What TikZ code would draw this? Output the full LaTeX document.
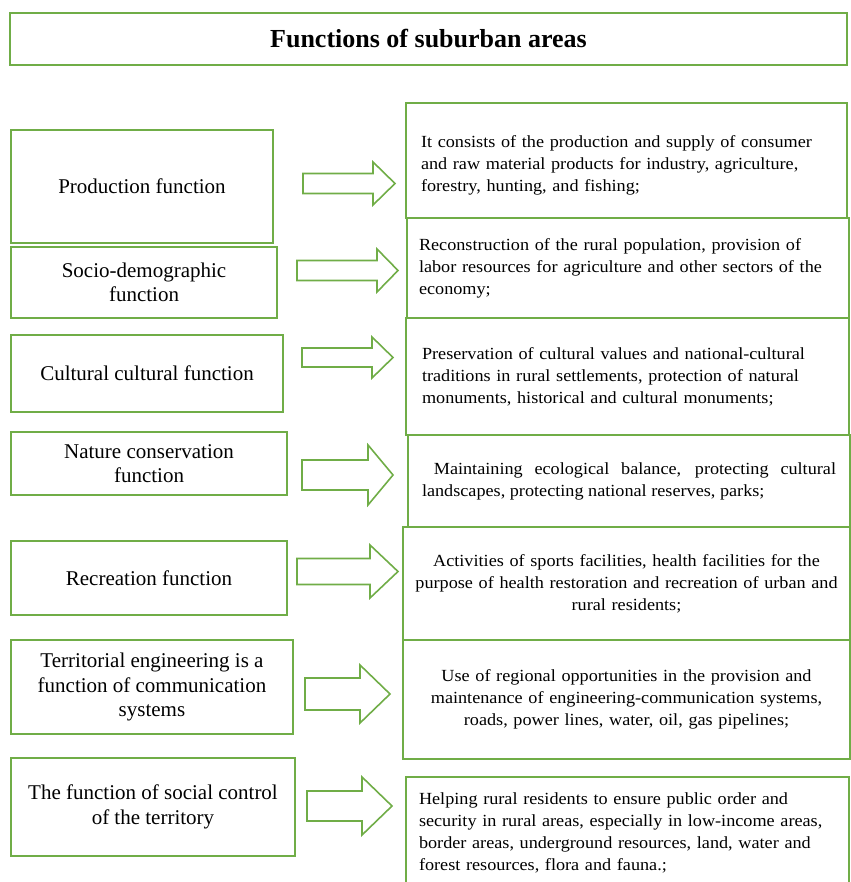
\documentclass[tikz,border=0pt]{standalone}
\usepackage{fontspec}
\setmainfont{Liberation Serif}
\newfontfamily\descfont[FakeStretch=1.07]{Liberation Serif}
\definecolor{boxgreen}{HTML}{70AD47}

\begin{document}
\begin{tikzpicture}
[x=1pt,y=-1pt,
 every node/.style={draw=boxgreen,line width=1.6pt,inner sep=0pt,outer sep=0pt},
 fn/.style={font=\fontsize{21}{24.5}\selectfont,align=center},
 ds/.style={font=\descfont\fontsize{17}{22}\selectfont}]
\useasboundingbox (0,0) rectangle (850,882);
\node[minimum width=837pt,minimum height=52pt,font=\bfseries\fontsize{26}{30}\selectfont] (title) at (428.5,39) {Functions of suburban areas};
% functions
\node[fn,minimum width=262pt,minimum height=113pt] (fn1) at (142,186.5) {Production function};
\node[fn,minimum width=266pt,minimum height=71pt] (fn2) at (144,282.5) {Socio-demographic\\function};
\node[fn,minimum width=272pt,minimum height=77pt] (fn3) at (147,373.5) {Cultural cultural function};
\node[fn,minimum width=276pt,minimum height=63pt] (fn4) at (149,463.5) {Nature conservation\\function};
\node[fn,minimum width=276pt,minimum height=74pt] (fn5) at (149,578) {Recreation function};
\node[fn,minimum width=282pt,minimum height=94pt] (fn6) at (152,687) {Territorial engineering is a\\function of communication\\systems};
\node[fn,minimum width=284pt,minimum height=98pt] (fn7) at (153,807) {The function of social control\\of the territory};
% descriptions
\node[ds,align=left,text width=411pt,minimum width=441pt,minimum height=115pt] (ds1) at (626.5,160.5) {\rule{0pt}{22pt}It consists of the production and supply of consumer\\and raw material products for industry, agriculture,\\forestry, hunting, and fishing;};
\node[ds,align=left,text width=418pt,minimum width=442pt,minimum height=100pt] (ds2) at (628,268) {Reconstruction of the rural population, provision of\\labor resources for agriculture and other sectors of the\\economy;};
\node[ds,align=left,text width=411pt,minimum width=443pt,minimum height=117pt] (ds3) at (627.5,376.5) {Preservation of cultural values and national-cultural\\traditions in rural settlements, protection of natural\\monuments, historical and cultural monuments;};
\node[ds,align=justify,text width=414pt,minimum width=442pt,minimum height=92pt] (ds4) at (629,481) {\ Maintaining ecological balance, protecting cultural\linebreak landscapes, protecting national reserves, parks;};
\node[ds,align=center,text width=436pt,minimum width=447pt,minimum height=113pt] (ds5) at (626.5,583.5) {Activities of sports facilities, health facilities for the\\purpose of health restoration and recreation of urban and\\rural residents;};
\node[ds,align=center,text width=436pt,minimum width=447pt,minimum height=119pt] (ds6) at (626.5,699.5) {Use of regional opportunities in the provision and\\maintenance of engineering-communication systems,\\roads, power lines, water, oil, gas pipelines;};
\node[ds,align=left,text width=417pt,minimum width=443pt,minimum height=112pt] (ds7) at (627.5,833) {Helping rural residents to ensure public order and\\security in rural areas, especially in low-income areas,\\border areas, underground resources, land, water and\\forest resources, flora and fauna.;};
% block arrows
\foreach \xs/\xb/\xt/\yc/\sh/\hh in {303/373/395/183.5/10/21.5,297/377/398/270.5/10/21.5,302/372/393/357.5/9.5/20.5,302/368/393/475/15/30,297/370/398/571.5/13/26.5,305/360/390/694/16/29,307/362/392/806/15/29}
\draw[boxgreen,line width=1.6pt,fill=white] (\xs,\yc-\sh) -- (\xb,\yc-\sh) -- (\xb,\yc-\hh) -- (\xt,\yc) -- (\xb,\yc+\hh) -- (\xb,\yc+\sh) -- (\xs,\yc+\sh) -- cycle;
\end{tikzpicture}
\end{document}
